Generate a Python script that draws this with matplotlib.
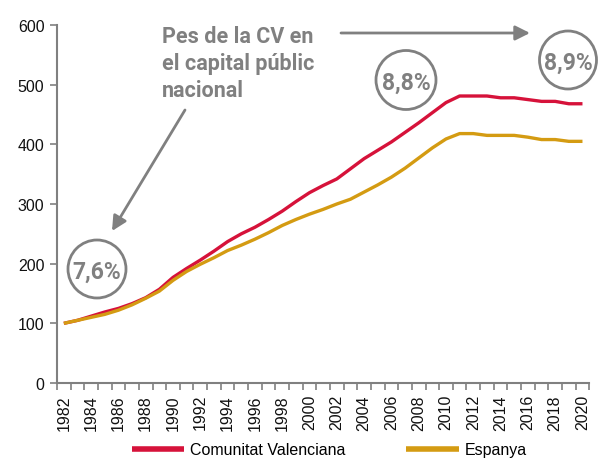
import matplotlib
matplotlib.use("Agg")
import matplotlib.pyplot as plt
from matplotlib.patches import Ellipse
from matplotlib.ticker import FixedLocator, NullFormatter

years = list(range(1982, 2021))
cv = [100, 105, 112, 119, 125, 133, 143, 157, 177, 192, 206, 221, 237, 250,
      261, 274, 288, 304, 319, 331, 342, 359, 376, 390, 404, 420, 436, 453,
      470, 481, 481, 481, 478, 478, 475, 472, 472, 468, 468]
espanya = [100, 105, 110, 115, 122, 131, 142, 154, 172, 187, 199, 210, 222, 231,
           241, 252, 264, 274, 283, 291, 300, 308, 320, 332, 345, 360, 377, 394,
           409, 418, 418, 415, 415, 415, 412, 408, 408, 405, 405]
series_names = ["Comunitat Valenciana", "Espanya"]
pct_labels = ["7,6%", "8,8%", "8,9%"]
note_lines = ["Pes de la CV en", "el capital públic", "nacional"]

RED = "#d6123a"
GOLD = "#d49b12"
GRAY = "#808080"

W, H = 608, 464
fig = plt.figure(figsize=(W / 100, H / 100), dpi=100)
ax = fig.add_axes([57 / W, 1 - 384 / H, (589.3 - 57) / W, (384 - 26) / H])

x = list(range(len(years)))
ax.plot(x, cv, color=RED, lw=2.4, solid_capstyle="butt", label=series_names[0])
ax.plot(x, espanya, color=GOLD, lw=2.4, solid_capstyle="butt", label=series_names[1])

ax.set_xlim(-0.5, len(years) - 0.5)
ax.set_ylim(0, 600)
ax.set_yticks(range(0, 601, 100))

# labels every two years, tick marks on every category boundary
ax.set_xticks(x[::2])
ax.set_xticklabels([str(y) for y in years[::2]], rotation=90)
ax.xaxis.set_minor_locator(FixedLocator([i - 0.5 for i in range(len(years) + 1)]))
ax.xaxis.set_minor_formatter(NullFormatter())
ax.tick_params(axis="x", which="major", length=0, pad=8)
ax.tick_params(axis="x", which="minor", length=5, color=GRAY, width=1.2)
ax.tick_params(axis="y", length=5, color=GRAY, width=1.2, pad=4)

for lab in ax.get_xticklabels() + ax.get_yticklabels():
    lab.set_fontfamily("Liberation Sans")
    lab.set_fontsize(11.5)
    lab.set_color("#111111")

for s in ["top", "right"]:
    ax.spines[s].set_visible(False)
for s in ["left", "bottom"]:
    ax.spines[s].set_color(GRAY)
    ax.spines[s].set_linewidth(1.5)

leg = fig.legend(loc="center", bbox_to_anchor=(329 / W, 1 - 451 / H), ncol=2,
                 frameon=False, handlelength=3.3, handletextpad=0.35,
                 columnspacing=3.8,
                 prop=dict(family="Liberation Sans", size=11.5))
for h in leg.get_lines():
    h.set_linewidth(4)

# annotation text (figure pixels, measured from top-left)
note_font = dict(family="Roboto", weight="bold", size=15.5, color=GRAY)
for txt, base in zip(note_lines, [43, 70, 97]):
    fig.text(162 / W, 1 - base / H, txt, ha="left", va="baseline", **note_font)

arrow = dict(arrowstyle="-|>", color=GRAY, lw=2, mutation_scale=22, shrinkA=0, shrinkB=0)
ax.annotate("", xy=(530, H - 34), xytext=(341, H - 34),
            xycoords="figure pixels", textcoords="figure pixels",
            arrowprops=arrow, annotation_clip=False)
ax.annotate("", xy=(112, H - 232), xytext=(185, H - 111),
            xycoords="figure pixels", textcoords="figure pixels",
            arrowprops=arrow, annotation_clip=False)

# circled percentages
circles = [(97, 270, 58, 58), (406, 81, 60, 59), (568, 61, 57, 58)]
for (cx, cy, w, h), lab in zip(circles, pct_labels):
    fig.add_artist(Ellipse((cx / W, 1 - cy / H), w / W, h / H,
                           transform=fig.transFigure, fill=False,
                           edgecolor=GRAY, lw=2))
    fig.text(cx / W, 1 - cy / H, lab, ha="center", va="center_baseline",
             family="Roboto", weight="bold", size=16.5, color=GRAY)

fig.savefig("out.png", dpi=100)
